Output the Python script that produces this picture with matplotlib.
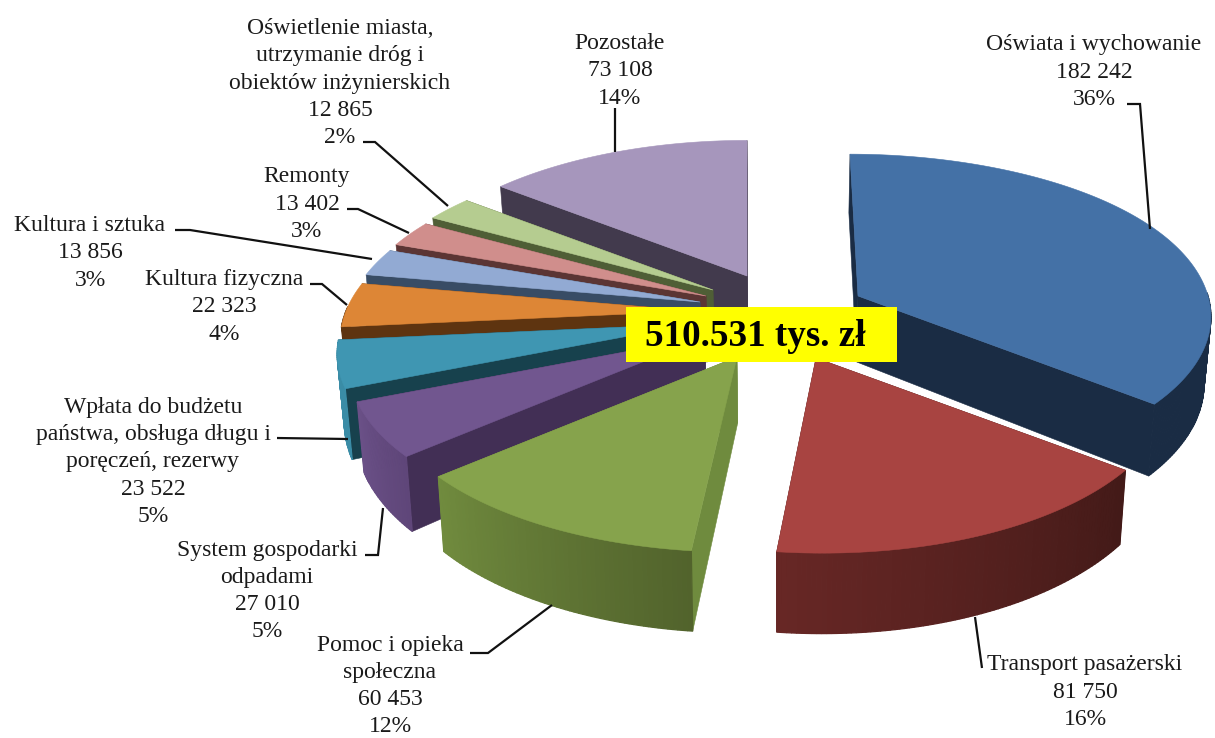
import numpy as np
import matplotlib
matplotlib.use("Agg")
import matplotlib.pyplot as plt
from matplotlib.patches import Polygon, Rectangle
from matplotlib.colors import to_rgb

plt.rcParams['font.family'] = ['Liberation Serif', 'DejaVu Sans']

# ---- data, clockwise from twelve o'clock
names = ["Oświata i wychowanie", "Transport pasażerski", "Pomoc i opieka\nspołeczna",
         "System gospodarki\nodpadami",
         "Wpłata do budżetu\npaństwa, obsługa długu i\nporęczeń, rezerwy",
         "Kultura fizyczna", "Kultura i sztuka", "Remonty",
         "Oświetlenie miasta,\nutrzymanie dróg i\nobiektów inżynierskich", "Pozostałe"]
values = [182242, 81750, 60453, 27010, 23522, 22323, 13856, 13402, 12865, 73108]
percents = [36, 16, 12, 5, 5, 4, 3, 3, 2, 14]
total_label = "510.531 tys. zł"

# ---- styles
top_colors = ["#4471A6", "#A84441", "#86A34C", "#71568F", "#3F96B2",
              "#DD8636", "#92AAD3", "#D08E8C", "#B5CC90", "#A696BC"]
cut_colors = ["#1A2C44", "#431A18", "#6F8B3E", "#422F55", "#17414D",
              "#5E3410", "#384C65", "#5B3534", "#4F5E36", "#423A4D"]
wall_start = ["#1A2C44", "#431A18", "#52632C", "#5F4679", "#3A8CA6",
              "#5E3410", "#384C65", "#5B3534", "#4F5E36", "#423A4D"]
wall_end = ["#1A2C44", "#672725", "#708B3E", "#6A5087", "#3A8CA6",
            "#5E3410", "#384C65", "#5B3534", "#4F5E36", "#423A4D"]
# placement of each exploded slice on the canvas
apex_x = [858, 816, 737, 705, 693, 696, 700, 706, 713, 747]
apex_y = [296, 358, 357, 337, 324, 311, 302, 296, 290, 276]
persp = [0.128, 0.18, 0.18, 0.18, 0.18, 0.18, 0.18, 0.18, 0.18, 0.18]
skew = [-8, 6.5, 0, 0, 0, 0, 0, 0, 0, 0]
draw_order = [9, 8, 7, 6, 5, 4, 3, 2, 0, 1]
RX, RY, DEPTH = 350, 160, 66
VANISH_X, LEAN = 780, 0.016

label_x = [1094, 1085, 390, 267, 153, 224, 90, 307, 340, 620]
label_y = [72, 692, 686, 591, 462, 307, 253, 204, 83, 71]
leaders = [[(1127, 104), (1140, 104), (1150, 229)],
           [(982, 668), (975, 617)],
           [(470, 653), (488, 653), (552, 605)],
           [(365, 555), (378, 555), (383, 508)],
           [(277, 438), (348, 439)],
           [(310, 284), (322, 284), (347, 305)],
           [(175, 230), (190, 230), (372, 259)],
           [(347, 209), (358, 209), (409, 233)],
           [(363, 142), (375, 142), (448, 206)],
           [(615, 108), (615, 152)]]

fig = plt.figure(figsize=(12.15, 7.38), dpi=100)
ax = fig.add_axes([0, 0, 1, 1])
ax.set_xlim(0, 1215)
ax.set_ylim(738, 0)
ax.axis("off")


def project(ang, i):
    u, v = np.sin(ang), np.cos(ang)
    s = 1 / (1 + persp[i] * v)
    return apex_x[i] + RX * u * s + skew[i] * v ** 4, apex_y[i] - RY * v * s, DEPTH * s


def drop(x):
    """Vertical edges lean slightly toward the vanishing point at their foot."""
    return x + (VANISH_X - x) * LEAN


edges = np.radians(np.concatenate([[0], np.cumsum(values)]) / sum(values) * 360)

z = 1
for i in draw_order:
    a0, a1 = edges[i], edges[i + 1]
    angs = np.linspace(a0, a1, max(int(np.degrees(a1 - a0) * 1.5), 6))
    xs, ys, ds = project(angs, i)
    ax0, ay0 = apex_x[i], apex_y[i]
    # radial cut faces
    for idx in (0, -1):
        ax.add_patch(Polygon([(ax0, ay0), (xs[idx], ys[idx]),
                              (drop(xs[idx]), ys[idx] + ds[idx]),
                              (drop(ax0), ay0 + DEPTH)],
                             fc=cut_colors[i], ec=cut_colors[i], lw=0.4, zorder=z))
        z += 1
    # outer wall, built as shaded strips; only its front-facing part shows
    c0, c1 = np.array(to_rgb(wall_start[i])), np.array(to_rgb(wall_end[i]))
    for k in range(len(angs) - 1):
        if np.cos(angs[k]) > 0.02 and np.cos(angs[k + 1]) > 0.02:
            continue
        col = c0 + (c1 - c0) * k / max(len(angs) - 2, 1)
        ax.add_patch(Polygon([(xs[k], ys[k]), (xs[k + 1], ys[k + 1]),
                              (drop(xs[k + 1]), ys[k + 1] + ds[k + 1]),
                              (drop(xs[k]), ys[k] + ds[k])],
                             fc=col, ec=col, lw=0.9, zorder=z))
    z += 1
    # top face
    ax.add_patch(Polygon(np.column_stack([np.r_[ax0, xs], np.r_[ay0, ys]]),
                         fc=top_colors[i], ec=top_colors[i], lw=0.4, zorder=z))
    z += 1

for pts in leaders:
    p = np.array(pts)
    ax.plot(p[:, 0], p[:, 1], color="#111111", lw=1.6, zorder=500,
            solid_capstyle="butt", solid_joinstyle="miter")

for n, val, pc, x, y in zip(names, values, percents, label_x, label_y):
    txt = f"{n}\n{val // 1000} {val % 1000:03d}\n{pc}%"
    ax.text(x, y, txt, ha="center", va="center", ma="center", fontsize=17,
            color="#1a1a1a", linespacing=1.38, zorder=600)

ax.add_patch(Rectangle((626, 307), 271, 55, fc="#FFFF00", ec="none", zorder=700))
ax.text(755, 337, total_label, ha="center", va="center", fontsize=26.7,
        fontweight="bold", color="black", zorder=701)

fig.savefig("out.png", dpi=100, facecolor="white")
